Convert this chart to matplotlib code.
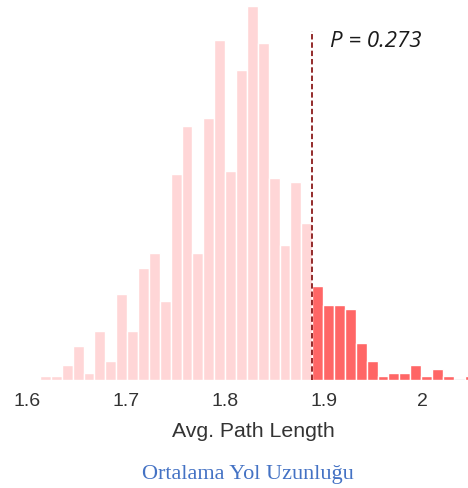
import numpy as np
import matplotlib
matplotlib.use("Agg")
import matplotlib.pyplot as plt

# Null distribution of average path length (histogram counts per bin)
bin_start = 1.6134
bin_width = 0.011
counts = [1, 1, 4, 9, 2, 13, 5, 23, 13, 30,
          34, 21, 55, 68, 34, 70, 91, 56, 83, 100,
          90, 54, 36, 53, 42, 25, 20, 20, 19, 10,
          5, 1, 2, 2, 4, 1, 3, 1, 0, 1]

observed = 1.888
p_value = 0.273

tick_values = [1.6, 1.7, 1.8, 1.9, 2.0]
tick_labels = ["1.6", "1.7", "1.8", "1.9", "2"]

light_pink = "#ffd6d7"
strong_red = "#ff6666"

fig = plt.figure(figsize=(4.68, 4.88), dpi=100)
ax = fig.add_axes([0.0, 108 / 488, 1.0, 380 / 488])

lefts = bin_start + bin_width * np.arange(len(counts))
colors = [strong_red if x >= observed - 1e-6 else light_pink for x in lefts]
edges = ["#cccccc" if c == 0 else "white" for c in counts]
ax.bar(lefts, counts, width=bin_width, align="edge", color=colors,
       edgecolor=edges, linewidth=1.0)

# observed statistic
ax.vlines(observed, 0, 93.2, colors="#8b1a1a", linestyles=(0, (3, 1.6)), linewidth=1.3)
ax.text(1.9064, 90.4, f"P = {p_value}", fontsize=16, style="italic",
        family="Open Sans", color="#1a1a1a", va="center", ha="left")

ax.set_xlim(1.573, 2.0458)
ax.set_ylim(0, 101.6)
ax.set_xticks(tick_values)
ax.set_xticklabels(tick_labels, fontsize=14, family="Liberation Sans", color="#333333")
ax.tick_params(axis="x", length=0, pad=9)
ax.set_yticks([])
for s in ax.spines.values():
    s.set_visible(False)

ax.set_xlabel("Avg. Path Length", fontsize=15.3, family="Liberation Sans", color="#333333")
ax.xaxis.set_label_coords(253 / 468, -57 / 380)
ax.xaxis.label.set_va("baseline")

fig.text(247.5 / 468, 9 / 488, "Ortalama Yol Uzunluğu", fontsize=16,
         family="Liberation Serif", color="#4472c4", ha="center", va="baseline")

fig.savefig("out.png", dpi=100)
